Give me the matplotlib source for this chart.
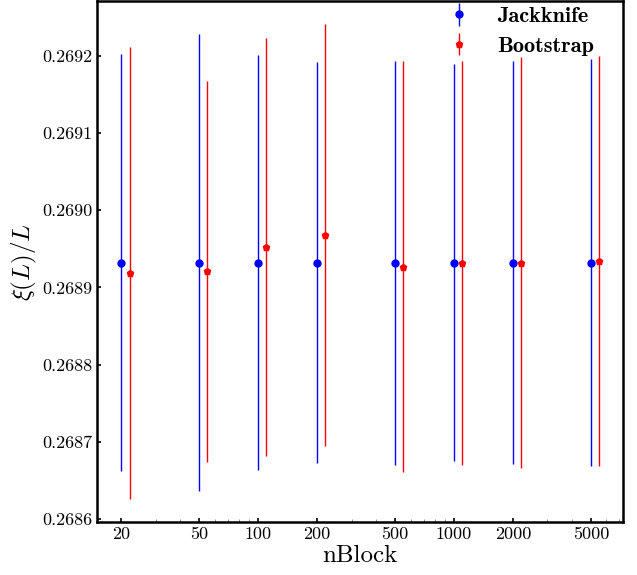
import numpy as np
import matplotlib
matplotlib.use("Agg")
import matplotlib.pyplot as plt
from matplotlib.ticker import FixedLocator, FormatStrFormatter, NullFormatter

plt.rcParams['font.family'] = 'cmr10'
plt.rcParams['mathtext.fontset'] = 'cm'
plt.rcParams['axes.formatter.use_mathtext'] = True

nblock = np.array([20, 50, 100, 200, 500, 1000, 2000, 5000])

# Jackknife estimates and errors
jk_mean = [0.268932, 0.268932, 0.268932, 0.268932, 0.268932, 0.268932, 0.268932, 0.268932]
jk_err = [0.000270, 0.000296, 0.000269, 0.000260, 0.000262, 0.000257, 0.000261, 0.000264]

# Bootstrap estimates and errors
bs_mean = [0.268919, 0.268921, 0.268952, 0.268968, 0.268927, 0.268932, 0.268932, 0.268934]
bs_err = [0.000293, 0.000247, 0.000271, 0.000273, 0.000266, 0.000262, 0.000266, 0.000266]

fig = plt.figure(figsize=(6.37, 5.75), dpi=100)
ax = fig.add_axes([0.1523, 0.0922, 0.8257, 0.9058])

ax.errorbar(nblock, jk_mean, yerr=jk_err, fmt='o', color='blue', ms=5,
            elinewidth=1.0, capsize=0, label='Jackknife')
ax.errorbar(nblock * 1.1, bs_mean, yerr=bs_err, fmt='p', color='red', ms=5,
            elinewidth=1.0, capsize=0, label='Bootstrap')

ax.set_xscale('log')
ax.set_xlim(15, 7300)
ax.set_ylim(0.268596, 0.269271)

ax.xaxis.set_major_locator(FixedLocator(nblock))
ax.set_xticklabels([str(n) for n in nblock])
ax.xaxis.set_minor_formatter(NullFormatter())
ax.yaxis.set_major_locator(FixedLocator([0.2686, 0.2687, 0.2688, 0.2689, 0.2690, 0.2691, 0.2692]))
ax.yaxis.set_major_formatter(FormatStrFormatter('%.4f'))

ax.tick_params(which='major', direction='in', length=3, width=1.2, labelsize=13)
ax.tick_params(which='minor', direction='in', length=2, width=0.6, color='gray')
for s in ax.spines.values():
    s.set_linewidth(1.8)

ax.set_xlabel('nBlock', fontsize=18, labelpad=2)
ax.set_ylabel(r'$\xi(L)/L$', fontsize=18, labelpad=2)

ax.legend(loc='upper right', bbox_to_anchor=(0.955, 1.0), frameon=False,
          prop={'family': 'cmb10', 'size': 16},
          handletextpad=0.7, borderaxespad=0.0, borderpad=0.25, labelspacing=0.45)

fig.savefig('out.png', dpi=100)
